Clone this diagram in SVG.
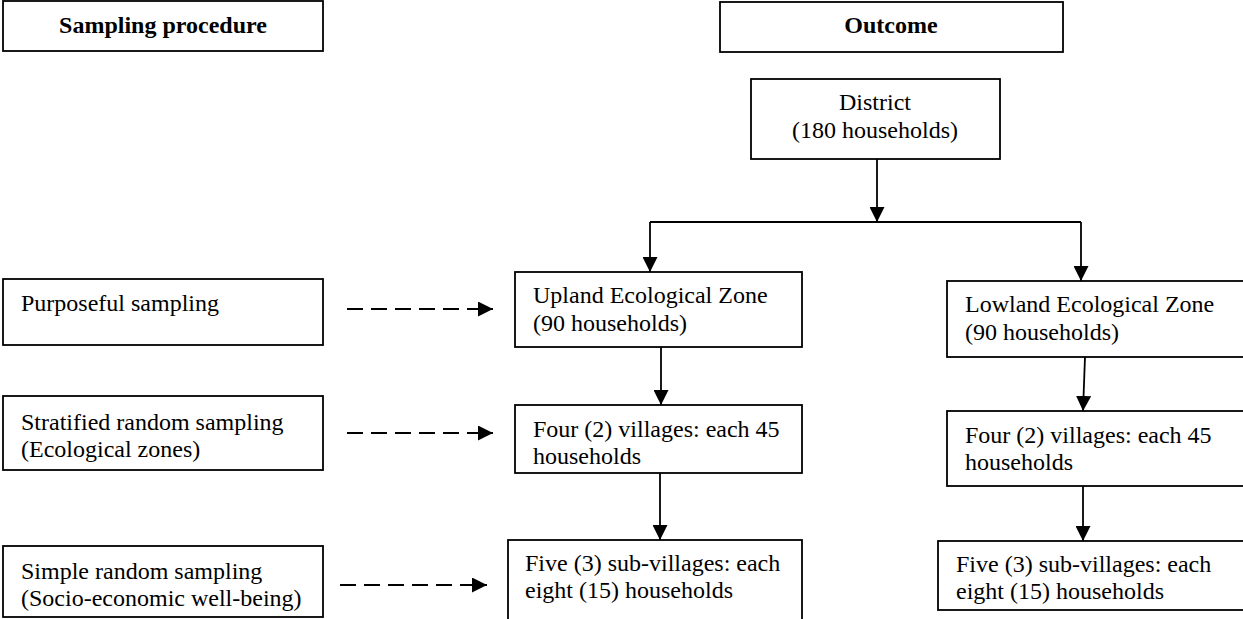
<svg xmlns="http://www.w3.org/2000/svg" width="1243" height="619" viewBox="0 0 1243 619">
<style>
.box{fill:#fff;stroke:#000;stroke-width:1.8}
.t{font-family:"Liberation Serif","Times New Roman",serif;font-size:24px;fill:#000}
.b{font-weight:bold;text-anchor:middle}
.c{text-anchor:middle}
.ln{fill:none;stroke:#000;stroke-width:1.8}
.ds{stroke-dasharray:16 8}
</style>
<defs>
<marker id="ah" markerUnits="userSpaceOnUse" markerWidth="15" markerHeight="15" refX="15" refY="7.5" orient="auto">
<path d="M0,0 L15,7.5 L0,15 Z" fill="#000"/>
</marker>
</defs>
<g id="sampling-procedure"><rect class="box" x="3" y="1" width="320" height="50"/><text class="t b" x="163" y="33">Sampling procedure</text></g>
<g id="outcome"><rect class="box" x="720" y="2" width="343" height="50"/><text class="t b" x="891" y="33">Outcome</text></g>
<g id="district"><rect class="box" x="751" y="79" width="249" height="80"/><text class="t c" x="875" y="110">District</text><text class="t c" x="875" y="138">(180 households)</text></g>
<g id="purposeful"><rect class="box" x="3" y="279" width="320" height="66"/><text class="t" x="21" y="311">Purposeful sampling</text></g>
<g id="stratified"><rect class="box" x="3" y="396" width="320" height="74"/><text class="t" x="21" y="430">Stratified random sampling</text><text class="t" x="21" y="457">(Ecological zones)</text></g>
<g id="simple"><rect class="box" x="3" y="546" width="320" height="71"/><text class="t" x="21" y="579">Simple random sampling</text><text class="t" x="21" y="606">(Socio-economic well-being)</text></g>
<g id="upland"><rect class="box" x="515" y="272" width="287" height="75"/><text class="t" x="533" y="303">Upland Ecological Zone</text><text class="t" x="533" y="331">(90 households)</text></g>
<g id="upland-villages"><rect class="box" x="515" y="405" width="287" height="68"/><text class="t" x="533" y="437">Four (2) villages: each 45</text><text class="t" x="533" y="464">households</text></g>
<g id="upland-subvillages"><rect class="box" x="508" y="540" width="294" height="90"/><text class="t" x="525" y="571">Five (3) sub-villages: each</text><text class="t" x="525" y="598">eight (15) households</text></g>
<g id="lowland"><rect class="box" x="947" y="281" width="310" height="76"/><text class="t" x="965" y="312">Lowland Ecological Zone</text><text class="t" x="965" y="340">(90 households)</text></g>
<g id="lowland-villages"><rect class="box" x="947" y="411" width="310" height="75"/><text class="t" x="965" y="443">Four (2) villages: each 45</text><text class="t" x="965" y="470">households</text></g>
<g id="lowland-subvillages"><rect class="box" x="938" y="541" width="320" height="69"/><text class="t" x="956" y="572">Five (3) sub-villages: each</text><text class="t" x="956" y="599">eight (15) households</text></g>
<g id="connectors">
<path class="ln" d="M877,159 L877,222" marker-end="url(#ah)"/>
<path class="ln" d="M650,222 L1081,222"/>
<path class="ln" d="M650,222 L650,272" marker-end="url(#ah)"/>
<path class="ln" d="M1081,222 L1081,281" marker-end="url(#ah)"/>
<path class="ln" d="M661,347 L661,405" marker-end="url(#ah)"/>
<path class="ln" d="M660,473 L660,540" marker-end="url(#ah)"/>
<path class="ln" d="M1085,357 L1083,411" marker-end="url(#ah)"/>
<path class="ln" d="M1083,486 L1083,541" marker-end="url(#ah)"/>
<path class="ln ds" d="M347,309 L493,309" marker-end="url(#ah)"/>
<path class="ln ds" d="M347,433 L493,433" marker-end="url(#ah)"/>
<path class="ln ds" d="M340,585 L487,585" marker-end="url(#ah)"/>
</g>
</svg>
